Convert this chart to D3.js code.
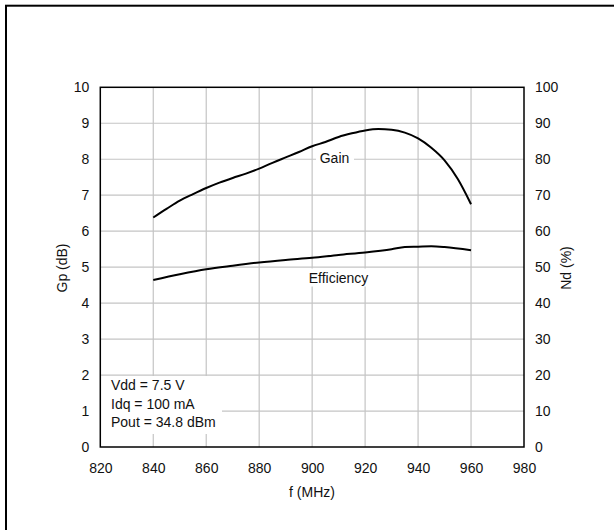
<!DOCTYPE html>
<html><head><meta charset="utf-8">
<script src="https://cdn.jsdelivr.net/npm/d3@7"></script>
<style>body{margin:0;background:#fff}svg{display:block}text{font-family:"Liberation Sans",Arial,sans-serif;fill:#111}</style>
</head><body>
<svg id="c" width="614" height="530"></svg>
<script>
const xTicks = [820,840,860,880,900,920,940,960,980];
const gainTicks = [0,1,2,3,4,5,6,7,8,9,10];
const effTicks = [0,10,20,30,40,50,60,70,80,90,100];
const gainFreq = [840,845,850,855,860,865,870,875,880,885,890,895,900,905,910,915,920,925,930,935,940,945,950,955,960];
const gainVal  = [6.38,6.62,6.85,7.03,7.20,7.35,7.48,7.60,7.74,7.90,8.05,8.20,8.36,8.48,8.62,8.72,8.80,8.84,8.82,8.74,8.58,8.32,7.97,7.45,6.75];
const effFreq = [840,850,860,870,880,890,900,910,920,930,935,940,945,950,960];
const effVal  = [46.4,48.0,49.4,50.4,51.3,52.0,52.6,53.4,54.1,55.0,55.6,55.7,55.8,55.6,54.7];
const notes = ["Vdd = 7.5 V","Idq = 100 mA","Pout = 34.8 dBm"];

const svg = d3.select("#c");
const L=100.3, R=524, T=87.3, B=447;
const x = d3.scaleLinear().domain([820,980]).range([L,R]);
const yG = d3.scaleLinear().domain([0,10]).range([B,T]);
const yE = d3.scaleLinear().domain([0,100]).range([B,T]);

// outer frame
svg.append("rect").attr("x",6).attr("y",5.7).attr("width",640).attr("height",560)
  .attr("fill","none").attr("stroke","#000").attr("stroke-width",2);

// grid
const g = svg.append("g");
g.selectAll("line.v").data(xTicks.slice(1,-1)).join("line")
  .attr("x1",d=>x(d)).attr("x2",d=>x(d)).attr("y1",T).attr("y2",B)
  .attr("stroke","#c4c4c4").attr("stroke-width",1.2);
g.selectAll("line.h").data(gainTicks.slice(1,-1)).join("line")
  .attr("x1",L).attr("x2",R).attr("y1",d=>yG(d)).attr("y2",d=>yG(d))
  .attr("stroke","#c4c4c4").attr("stroke-width",1.2);

// white boxes behind labels
svg.append("rect").attr("x",316).attr("y",150).attr("width",38).attr("height",18).attr("fill","#fff");
svg.append("rect").attr("x",305).attr("y",268.5).attr("width",69).attr("height",18).attr("fill","#fff");
svg.append("rect").attr("x",101).attr("y",376).attr("width",121).attr("height",58).attr("fill","#fff");

// lines
const lg = d3.line().x((d,i)=>x(gainFreq[i])).y(d=>yG(d)).curve(d3.curveMonotoneX);
const le = d3.line().x((d,i)=>x(effFreq[i])).y(d=>yE(d)).curve(d3.curveMonotoneX);
svg.append("path").attr("d",lg(gainVal)).attr("fill","none").attr("stroke","#000").attr("stroke-width",2);
svg.append("path").attr("d",le(effVal)).attr("fill","none").attr("stroke","#000").attr("stroke-width",2);

// frame
svg.append("rect").attr("x",L).attr("y",T).attr("width",R-L).attr("height",B-T)
  .attr("fill","none").attr("stroke","#000").attr("stroke-width",1.5);

// axes
const fs = "14px";
const ax = svg.append("g").attr("transform",`translate(0,${B})`)
  .call(d3.axisBottom(x).tickValues(xTicks).tickSize(0).tickPadding(16).tickFormat(d3.format("d")));
ax.select(".domain").remove();
ax.selectAll("text").style("font-size",fs).attr("fill","#111");
const ayl = svg.append("g").attr("transform",`translate(${L},0)`)
  .call(d3.axisLeft(yG).tickValues(gainTicks).tickSize(0).tickPadding(11).tickFormat(d3.format("d")));
ayl.select(".domain").remove();
ayl.selectAll("text").style("font-size",fs).attr("fill","#111");
const ayr = svg.append("g").attr("transform",`translate(${R},0)`)
  .call(d3.axisRight(yE).tickValues(effTicks).tickSize(0).tickPadding(11).tickFormat(d3.format("d")));
ayr.select(".domain").remove();
ayr.selectAll("text").style("font-size",fs).attr("fill","#111");

// titles
svg.append("text").attr("x",312).attr("y",497).attr("text-anchor","middle").style("font-size",fs).text("f (MHz)");
svg.append("text").attr("transform","translate(67,268) rotate(-90)").attr("text-anchor","middle").style("font-size",fs).text("Gp (dB)");
svg.append("text").attr("transform","translate(571,268) rotate(-90)").attr("text-anchor","middle").style("font-size",fs).text("Nd (%)");

svg.append("text").attr("x",334.5).attr("y",163).attr("text-anchor","middle").style("font-size",fs).text("Gain");
svg.append("text").attr("x",338.5).attr("y",283).attr("text-anchor","middle").style("font-size",fs).text("Efficiency");

svg.selectAll("text.note").data(notes).join("text").attr("class","note")
  .attr("x",111).attr("y",(d,i)=>390+i*18.5).style("font-size",fs).text(d=>d);
</script>
</body></html>
